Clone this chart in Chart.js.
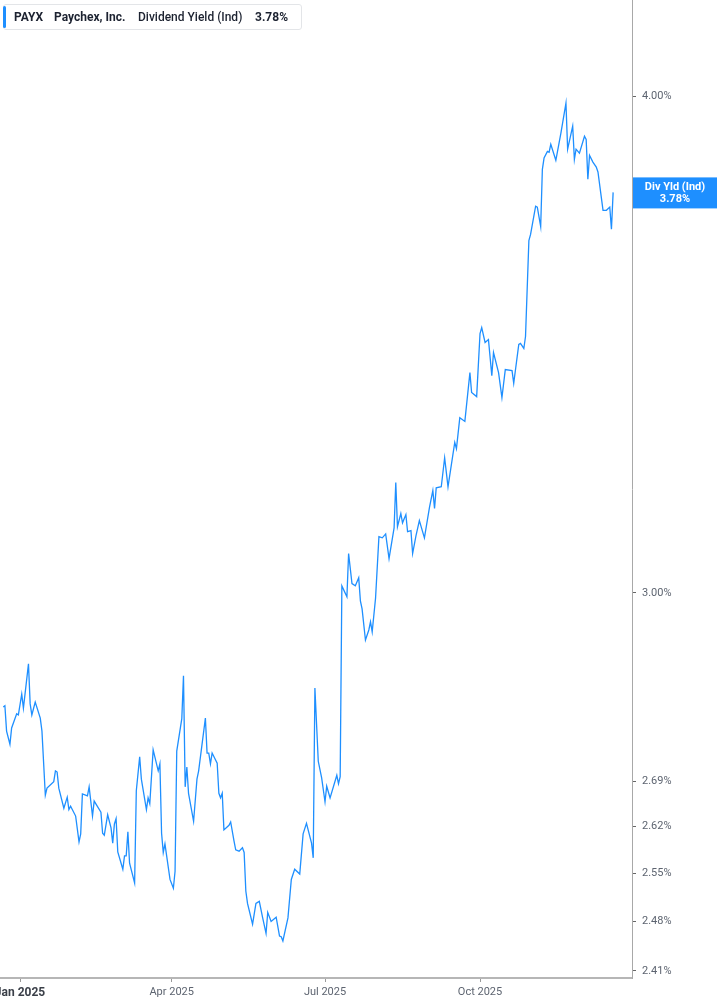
<!DOCTYPE html>
<html><head><meta charset="utf-8">
<script src="https://cdn.jsdelivr.net/npm/chart.js@4.4.1/dist/chart.umd.min.js"></script>
<style>
html,body{margin:0;padding:0;background:#fff;}
#wrap{position:relative;width:717px;height:1005px;overflow:hidden;}
#c{position:absolute;left:0;top:0;}
#legend{position:absolute;left:3px;top:4px;width:299px;height:26px;box-sizing:border-box;border:1px solid #e3e5e8;border-radius:3px;background:#fff;font-family:Roboto,"Noto Sans",sans-serif;font-size:12px;color:#1c2230;white-space:nowrap;}
#legend .bar{position:absolute;left:-1px;top:1px;width:3px;height:22px;background:#1e8fff;border-radius:2px;}
#legend span{position:absolute;top:5px;line-height:14px;}
</style></head>
<body>
<div id="wrap">
<canvas id="c" width="717" height="1005"></canvas>
<div id="legend"><div class="bar"></div>
<span style="left:10px;font-weight:700;">PAYX</span>
<span style="left:50px;font-weight:700;">Paychex, Inc.</span>
<span style="left:134px;font-weight:500;">Dividend Yield (Ind)</span>
<span style="left:251px;font-weight:700;">3.78%</span>
</div>
</div>
<script>
// days since 2025-01-01
const days = [
-10,-9,-8,-6,-5,-2,-1,1,2,5,6,7,9,12,13,15,16,20,21,22,
23,26,28,29,30,31,33,35,36,37,40,41,43,44,48,49,50,52,54,55,
56,57,58,61,62,63,64,65,68,69,71,72,75,76,77,79,82,83,84,85,
86,89,91,92,93,96,97,98,99,100,103,105,106,110,111,112,113,114,117,118,
119,120,121,124,125,127,128,130,132,133,134,135,138,140,142,144,146,147,149,152,
154,155,156,159,161,163,166,168,170,173,174,175,177,179,181,182,184,188,189,190,
191,194,195,197,199,201,202,203,205,207,208,209,211,213,215,217,219,222,223,224,
226,227,229,230,232,233,235,237,240,243,245,246,247,250,252,254,258,259,261,264,
267,268,271,273,274,276,278,280,281,284,286,288,292,293,296,297,299,300,302,303,
306,307,309,310,311,313,314,315,318,321,322,324,325,328,329,330,332,335,336,337,
338,340,342,343,346,348,350,351,352
];
// dividend yield (%)
const yields = [
2.808,2.810,2.769,2.748,2.774,2.797,2.795,2.829,2.806,2.879,2.813,2.795,2.816,2.790,2.769,2.668,2.679,2.689,2.706,2.704,
2.679,2.648,2.665,2.646,2.651,2.646,2.636,2.597,2.609,2.670,2.667,2.681,2.636,2.659,2.642,2.610,2.607,2.638,2.618,2.595,
2.624,2.632,2.582,2.556,2.576,2.576,2.612,2.565,2.536,2.675,2.728,2.693,2.646,2.664,2.655,2.739,2.706,2.717,2.610,2.581,
2.594,2.541,2.528,2.553,2.737,2.789,2.859,2.681,2.712,2.671,2.628,2.693,2.706,2.790,2.734,2.734,2.717,2.734,2.718,2.671,
2.664,2.671,2.615,2.622,2.627,2.598,2.585,2.583,2.588,2.581,2.524,2.506,2.476,2.506,2.509,2.485,2.463,2.493,2.480,2.486,
2.459,2.458,2.452,2.485,2.541,2.556,2.549,2.609,2.625,2.595,2.573,2.839,2.721,2.695,2.658,2.682,2.664,2.699,2.686,2.697,
3.012,2.993,3.069,3.016,3.012,3.026,2.986,2.972,2.919,2.936,2.950,2.933,2.991,3.099,3.097,3.104,3.060,3.115,3.198,3.117,
3.141,3.124,3.139,3.108,3.110,3.069,3.101,3.128,3.097,3.152,3.183,3.150,3.188,3.190,3.244,3.190,3.273,3.261,3.320,3.313,
3.408,3.369,3.361,3.486,3.498,3.468,3.474,3.402,3.448,3.408,3.359,3.414,3.412,3.387,3.464,3.466,3.456,3.480,3.679,3.692,
3.753,3.751,3.709,3.834,3.859,3.874,3.872,3.890,3.854,3.915,3.938,3.984,3.879,3.931,3.856,3.879,3.870,3.908,3.901,3.812,
3.865,3.850,3.839,3.828,3.744,3.744,3.751,3.703,3.783
];
const yTicks = [2.41, 2.48, 2.55, 2.62, 2.69, 3.00, 4.00];
const xTickDays = [0, 90, 181, 273];
const xTickLabels = ['Jan 2025', 'Apr 2025', 'Jul 2025', 'Oct 2025'];
const flagTitle = 'Div Yld (Ind)';
const flagValue = '3.78%';

const points = days.map((d, i) => ({ x: d, y: yields[i] }));

const flagPlugin = {
  id: 'flag',
  afterDraw(chart) {
    const ctx = chart.ctx;
    const ys = chart.scales.y;
    const area = chart.chartArea;
    const py = ys.getPixelForValue(yields[yields.length - 1]);
    const left = area.right + 1;
    const w = chart.width - left;
    ctx.save();
    ctx.fillStyle = '#1e8fff';
    ctx.fillRect(left, py - 15, w, 31);
    ctx.fillStyle = '#ffffff';
    ctx.font = 'bold 11px Roboto, "Noto Sans", sans-serif';
    ctx.textAlign = 'center';
    ctx.textBaseline = 'middle';
    ctx.fillText(flagTitle, left + w / 2, py - 5);
    ctx.fillText(flagValue, left + w / 2, py + 7);
    ctx.restore();
  }
};

new Chart(document.getElementById('c'), {
  type: 'line',
  data: { datasets: [{
    data: points,
    borderColor: '#1e8fff',
    borderWidth: 1.3,
    pointRadius: 0,
    tension: 0,
    fill: false
  }]},
  options: {
    responsive: false,
    animation: false,
    layout: { padding: 0 },
    plugins: { legend: { display: false }, tooltip: { enabled: false } },
    scales: {
      x: {
        type: 'linear',
        position: 'bottom',
        min: -11.9,
        max: 363.2,
        afterBuildTicks: s => { s.ticks = xTickDays.map(v => ({ value: v })); },
        afterFit: s => { s.paddingLeft = 0; s.paddingRight = 0; s.height = 27; },
        ticks: {
          autoSkip: false,
          maxRotation: 0,
          padding: 4,
          callback: v => xTickLabels[xTickDays.indexOf(v)],
          color: c => c.index === 0 ? '#3a3f48' : '#5d6470',
          font: c => ({ family: 'Roboto, "Noto Sans", sans-serif', size: c.index === 0 ? 12 : 11, weight: c.index === 0 ? 'bold' : 'normal' })
        },
        grid: { drawOnChartArea: false, drawTicks: true, tickLength: 4, tickColor: '#9a9a9a' },
        border: { display: true, color: '#b6b6b6', width: 2 }
      },
      y: {
        type: 'logarithmic',
        position: 'right',
        min: 2.404,
        max: 4.229,
        afterBuildTicks: s => { s.ticks = yTicks.map(v => ({ value: v })); },
        afterFit: s => { s.width = 85; s.paddingTop = 0; s.paddingBottom = 0; },
        ticks: {
          padding: 6,
          color: '#5d6470',
          font: { family: 'Roboto, "Noto Sans", sans-serif', size: 11 },
          callback: v => Number(v).toFixed(2) + '%'
        },
        grid: { drawOnChartArea: false, drawTicks: true, tickLength: 4, tickColor: '#666', tickWidth: 1 },
        border: { display: true, color: '#a8a8a8', width: 1 }
      }
    }
  },
  plugins: [flagPlugin]
});
</script>
</body></html>
